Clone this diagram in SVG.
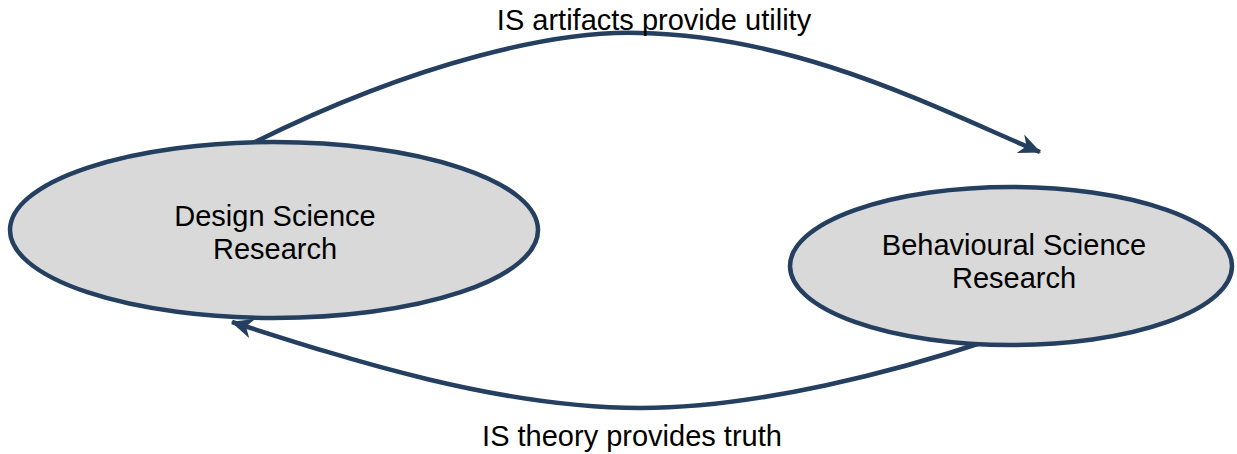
<svg xmlns="http://www.w3.org/2000/svg" width="1237" height="454" viewBox="0 0 1237 454">
<defs>
<style>
.node{fill:#d9d9d9;stroke:#243f60;stroke-width:4.5}
.edge{fill:none;stroke:#243f60;stroke-width:4.5}
.t{font-family:"Liberation Sans",Arial,sans-serif;font-size:29px;fill:#000;text-anchor:middle}
</style>
<marker id="ah" markerWidth="5" markerHeight="4.5" refX="9.5" refY="5" orient="auto" markerUnits="strokeWidth" viewBox="0 0 10 10" preserveAspectRatio="none">
<path d="M0,0 L10,5 L0,10 L3,5 Z" fill="#243f60"/>
</marker>
</defs>
<rect width="1237" height="454" fill="#fff"/>
<g id="connectors">
<path class="edge" d="M253,143 C420,60 560,30 640,33 C800,36 940,110 1040,152" marker-end="url(#ah)"/>
<path class="edge" d="M990,340 C900,370 760,408 640,408 C500,408 350,360 232,322" marker-end="url(#ah)"/>
</g>
<g id="design">
<ellipse class="node" cx="274" cy="230" rx="264" ry="88"/>
<text class="t" x="275" y="226">Design Science</text>
<text class="t" x="275" y="259">Research</text>
</g>
<g id="behavioural">
<ellipse class="node" cx="1011" cy="266" rx="221" ry="79"/>
<text class="t" x="1014" y="255">Behavioural Science</text>
<text class="t" x="1014" y="288">Research</text>
</g>
<text class="t" x="654" y="30">IS artifacts provide utility</text>
<text class="t" x="632" y="446">IS theory provides truth</text>
</svg>
